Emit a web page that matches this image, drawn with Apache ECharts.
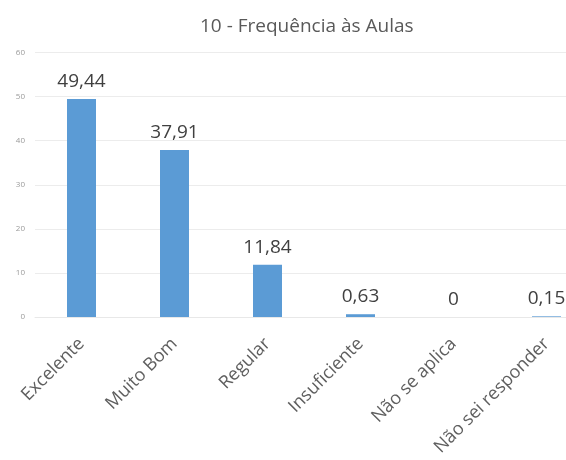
<!DOCTYPE html>
<html><head><meta charset="utf-8">
<script src="https://cdn.jsdelivr.net/npm/echarts@6/dist/echarts.min.js"></script>
<style>html,body{margin:0;padding:0;background:#fff}#c{width:566px;height:460px}</style>
</head><body><div id="c"></div>
<script>
const title = '10 - Frequência às Aulas';
const categories = ['Excelente', 'Muito Bom', 'Regular', 'Insuficiente', 'Não se aplica', 'Não sei responder'];
const values = [49.44, 37.91, 11.84, 0.63, 0, 0.15];
const yTicks = [0, 10, 20, 30, 40, 50, 60];

const chart = echarts.init(document.getElementById('c'), null, {renderer: 'canvas'});
chart.setOption({
  animation: false,
  backgroundColor: '#ffffff',
  textStyle: {fontFamily: 'Open Sans'},
  title: {
    text: title, left: 195, top: 12,
    textStyle: {fontFamily: 'Open Sans', fontSize: 19, fontWeight: 'normal', color: '#595959'}
  },
  grid: {left: 35, top: 52.5, right: -27, bottom: 143, containLabel: false, outerBoundsMode: 'none'},
  xAxis: {
    type: 'category', data: categories,
    axisLine: {show: true, lineStyle: {color: '#e8e8e8'}},
    axisTick: {show: false},
    axisLabel: {rotate: 45, margin: 24, fontSize: 18, color: '#5f5f5f', fontFamily: 'Open Sans', interval: 0}
  },
  yAxis: {
    type: 'value', min: yTicks[0], max: yTicks[yTicks.length - 1], interval: yTicks[1] - yTicks[0],
    axisLine: {show: false}, axisTick: {show: false},
    splitLine: {lineStyle: {color: '#ececec', width: 1}},
    axisLabel: {fontSize: 8, color: '#9a9a9a', margin: 10, fontFamily: 'Open Sans'}
  },
  series: [{
    type: 'bar', data: values, barWidth: 29,
    itemStyle: {color: '#5b9bd5'},
    label: {
      show: true, position: 'top', distance: 8, fontSize: 19, color: '#404040', fontFamily: 'Open Sans',
      formatter: p => String(p.value).replace('.', ',')
    }
  }]
});
</script></body></html>
